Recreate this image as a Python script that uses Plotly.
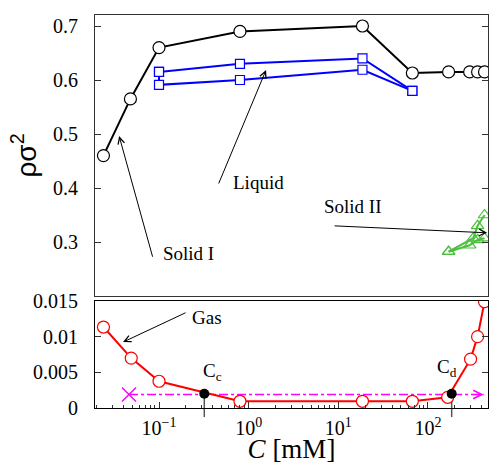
import math
import plotly.graph_objects as go

# ---------------- data ----------------
C_solid1 = [0.024, 0.048, 0.1, 0.8, 18.6, 67, 170, 292, 358, 428]
rho_solid1 = [0.46, 0.565, 0.66, 0.69, 0.70, 0.613, 0.615, 0.615, 0.615, 0.615]

C_liq_a = [0.1, 0.8, 18.6, 67]
rho_liq_a = [0.615, 0.63, 0.64, 0.58]
C_liq_b = [0.1, 0.1, 0.8, 18.6, 67]
rho_liq_b = [0.615, 0.591, 0.60, 0.619, 0.58]

C_solid2_a = [170, 292, 358, 428]
rho_solid2_a = [0.282, 0.294, 0.304, 0.307]
C_solid2_b = [170, 320, 358, 428]
rho_solid2_b = [0.282, 0.307, 0.33, 0.35]

C_gas = [0.024, 0.049, 0.1, 0.8, 18.6, 67, 166, 299, 358, 428]
rho_gas = [0.01135, 0.0070, 0.00375, 0.00094, 0.00094, 0.00094, 0.0015, 0.00685, 0.0100, 0.0149]

C_crit = [0.32, 184]
rho_crit = [0.0020, 0.0020]
crit_labels = ["C<sub>c</sub>", "C<sub>d</sub>"]

C_coex = [0.0463, 418]
rho_coex = [0.0019, 0.0019]

x_tickvals = [0.1, 1, 10, 100]
x_ticktext = ["10<sup>\u22121</sup>", "10<sup>0</sup>", "10<sup>1</sup>", "10<sup>2</sup>"]
y_top_ticks = [0.3, 0.4, 0.5, 0.6, 0.7]
y_top_text = ["0.3", "0.4", "0.5", "0.6", "0.7"]
y_bot_ticks = [0, 0.005, 0.01, 0.015]
y_bot_text = ["0", "0.005", "0.01", "0.015"]
minor_vals = [m * 10 ** k for k in range(-2, 3) for m in range(2, 10)]

# ---------------- style ----------------
SERIF = "Liberation Serif"
BLACK = "#000000"
BLUE = "#0000ff"
RED = "#ff0000"
GREEN = "#4cbf3c"
MAGENTA = "#ff00ff"
FRAME = "#333333"

fig = go.Figure()

# top panel
fig.add_trace(go.Scatter(x=C_solid1, y=rho_solid1, mode="lines+markers",
                         line=dict(color=BLACK, width=2),
                         marker=dict(symbol="circle", size=12, color="white",
                                     line=dict(color=BLACK, width=1.2)),
                         xaxis="x", yaxis="y"))
for cx, ry in [(C_liq_a, rho_liq_a), (C_liq_b, rho_liq_b)]:
    fig.add_trace(go.Scatter(x=cx, y=ry, mode="lines+markers",
                             line=dict(color=BLUE, width=2),
                             marker=dict(symbol="square", size=9, color="white",
                                         line=dict(color=BLUE, width=1.2)),
                             xaxis="x", yaxis="y"))
for cx, ry in [(C_solid2_a, rho_solid2_a), (C_solid2_b, rho_solid2_b)]:
    fig.add_trace(go.Scatter(x=cx, y=ry, mode="lines+markers",
                             line=dict(color=GREEN, width=2),
                             marker=dict(symbol="triangle-up-open", size=11, color=GREEN,
                                         line=dict(color=GREEN, width=1.2)),
                             xaxis="x", yaxis="y"))

# bottom panel
fig.add_trace(go.Scatter(x=C_coex, y=rho_coex, mode="lines",
                         line=dict(color=MAGENTA, width=1.5, dash="dashdot"),
                         xaxis="x2", yaxis="y2"))
fig.add_trace(go.Scatter(x=C_coex[:1], y=rho_coex[:1], mode="markers",
                         marker=dict(symbol="x-thin", size=14,
                                     line=dict(color=MAGENTA, width=1.5)),
                         xaxis="x2", yaxis="y2"))
fig.add_trace(go.Scatter(x=C_gas, y=rho_gas, mode="lines+markers",
                         line=dict(color=RED, width=2),
                         marker=dict(symbol="circle", size=12, color="white",
                                     line=dict(color=RED, width=1.2)),
                         xaxis="x2", yaxis="y2"))
fig.add_trace(go.Scatter(x=C_crit, y=rho_crit, mode="markers",
                         marker=dict(symbol="circle", size=10, color=BLACK),
                         xaxis="x2", yaxis="y2"))

# ---------------- layout ----------------
ML, MR, MT, MB = 95, 2, 15, 56
H = 464
plot_h = H - MT - MB
top_dom = [(H - MB - 296) / plot_h, 1]
bot_dom = [0, (H - MB - 301) / plot_h]
xrange_log = [-1.714, 2.670]

tickfont = dict(family=SERIF, size=20, color=BLACK)

fig.update_layout(
    width=490, height=464,
    margin=dict(l=ML, r=MR, t=MT, b=MB, autoexpand=False),
    paper_bgcolor="white", plot_bgcolor="white",
    showlegend=False,
    xaxis=dict(type="log", range=xrange_log, domain=[0, 1], anchor="y",
               showticklabels=False, ticks="", showgrid=False, zeroline=False,
               showline=True, linecolor=FRAME, linewidth=1, mirror=True),
    yaxis=dict(domain=top_dom, range=[0.2, 0.7204], anchor="x",
               tickmode="array", tickvals=y_top_ticks, ticktext=y_top_text,
               ticks="inside", ticklen=6, tickcolor=FRAME, tickfont=tickfont,
               ticklabelstandoff=12,
               showgrid=False, zeroline=False,
               showline=True, linecolor=FRAME, linewidth=1, mirror="ticks",
               title=dict(text="\u03c1\u03c3<sup>2</sup>",
                          font=dict(family="Liberation Sans", size=28, color=BLACK),
                          standoff=8)),
    xaxis2=dict(type="log", range=xrange_log, domain=[0, 1], anchor="y2",
                tickmode="array", tickvals=x_tickvals, ticktext=x_ticktext,
                ticks="inside", ticklen=6, tickcolor=FRAME, tickfont=tickfont,
                ticklabelstandoff=2,
                minor=dict(tickmode="array", tickvals=minor_vals, ticks="inside",
                           ticklen=3, tickcolor=FRAME),
                showgrid=False, zeroline=False,
                showline=True, linecolor=BLACK, linewidth=1, mirror=True,
                title=dict(text="<i>C</i> [mM]",
                           font=dict(family=SERIF, size=27, color=BLACK),
                           standoff=4)),
    yaxis2=dict(domain=bot_dom, range=[0, 0.015], anchor="x2",
                tickmode="array", tickvals=y_bot_ticks, ticktext=y_bot_text,
                ticks="inside", ticklen=6, tickcolor=FRAME, tickfont=tickfont,
                ticklabelstandoff=12,
                showgrid=False, zeroline=False,
                showline=True, linecolor=BLACK, linewidth=1, mirror="ticks"),
)

# vertical markers at the critical concentrations
def paper_y_bot(v):
    return bot_dom[0] + (bot_dom[1] - bot_dom[0]) * v / 0.015

for cx, ry in zip(C_crit, rho_crit):
    fig.add_shape(type="line", xref="x2", yref="paper",
                  x0=cx, x1=cx, y0=-9 / plot_h, y1=paper_y_bot(ry),
                  line=dict(color="#555555", width=1.5), layer="below")

L = math.log10
ann_font = dict(family=SERIF, size=19, color=BLACK)

# labels
labels = [
    ("Solid I", 0.216, 0.278, "x", "y"),
    ("Liquid", 1.3, 0.411, "x", "y"),
    ("Solid II", 14.6, 0.365, "x", "y"),
    ("Gas", 3.4e-1, 0.01275, "x2", "y2"),
]
for txt, xv, yv, xr, yr in labels:
    fig.add_annotation(text=txt, x=L(xv), y=yv, xref=xr, yref=yr,
                       showarrow=False, font=ann_font)

for lab, cx, yv in zip(crit_labels, [0.40, 165], [0.0050, 0.0056]):
    fig.add_annotation(text=lab, x=L(cx), y=yv, xref="x2", yref="y2",
                       showarrow=False, font=ann_font)

# arrows (head, tail)
arrows = [
    ((0.0359, 0.4963), (0.0857, 0.270), "x", "y"),
    ((1.563, 0.6185), (0.456, 0.4056), "x", "y"),
    ((458, 0.317), (8.75, 0.330), "x", "y"),
    ((0.0397, 0.00924), (0.2056, 0.01345), "x2", "y2"),
]
for (hx, hy), (tx, ty), xr, yr in arrows:
    fig.add_annotation(text="", x=L(hx), y=hy, ax=L(tx), ay=ty,
                       xref=xr, yref=yr, axref=xr, ayref=yr,
                       showarrow=True, arrowhead=5, arrowsize=1.3,
                       arrowwidth=1, arrowcolor=BLACK, standoff=0, startstandoff=0)

# arrowhead of the coexistence line
fig.add_annotation(text="", x=L(C_coex[1]), y=rho_coex[1], xref="x2", yref="y2",
                   ax=-8, ay=0, showarrow=True, arrowhead=5, arrowsize=1.4,
                   arrowwidth=1.2, arrowcolor=MAGENTA, standoff=0)

fig.write_html("out.html", config={"displayModeBar": False},
               post_script="document.body.style.margin='0px';document.body.style.overflow='hidden';")
